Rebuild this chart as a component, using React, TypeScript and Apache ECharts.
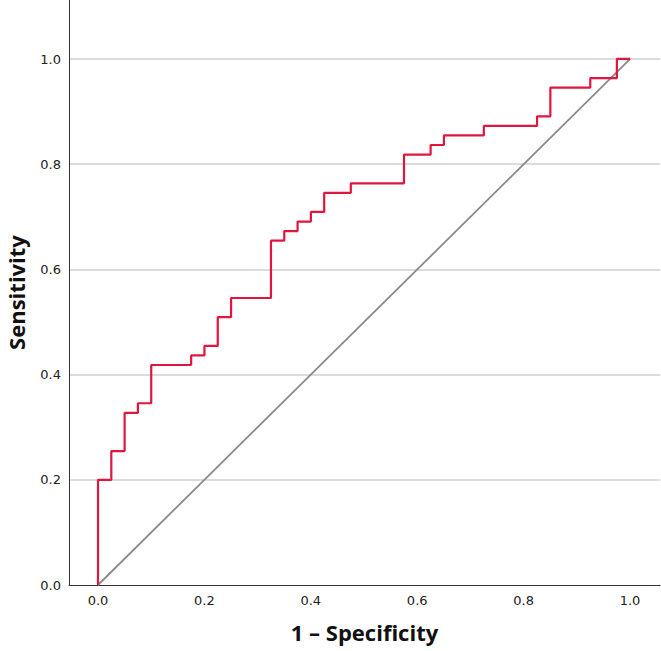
import React, { useEffect, useRef } from "react";
import * as echarts from "echarts";

// ROC curve points (1 - Specificity, Sensitivity), drawn as a step line
const fpr = [0, 0, 0.025, 0.05, 0.075, 0.1, 0.175, 0.2, 0.225, 0.25, 0.325, 0.35, 0.375, 0.4, 0.425, 0.475, 0.575, 0.625, 0.65, 0.725, 0.825, 0.85, 0.925, 0.975, 1.0];
const tpr = [0, 0.2, 0.2545, 0.3273, 0.3455, 0.4182, 0.4364, 0.4545, 0.5091, 0.5455, 0.6545, 0.6727, 0.6909, 0.7091, 0.7455, 0.7636, 0.8182, 0.8364, 0.8545, 0.8727, 0.8909, 0.9455, 0.9636, 1.0, 1.0];
// Reference diagonal
const refX = [0, 1];
const refY = [0, 1];
const tickValues = ["0.0", "0.2", "0.4", "0.6", "0.8", "1.0"];

export default function App() {
  const ref = useRef<HTMLDivElement>(null);
  useEffect(() => {
    if (!ref.current) return;
    const chart = echarts.init(ref.current, null, { renderer: "svg" });
    const labelFont = { fontFamily: "DejaVu Sans", fontSize: 13, color: "#222" };
    const nameFont = { fontFamily: "Open Sans", fontWeight: "bold" as const, fontSize: 22, color: "#111" };
    chart.setOption({
      animation: false,
      backgroundColor: "#fff",
      grid: [
        { left: 69, right: 1, top: 0, bottom: 66, outerBoundsMode: "none", containLabel: false },
        { left: 69, right: 1, top: 59, bottom: 66, outerBoundsMode: "none", containLabel: false },
        { left: 98, right: 31, top: 0, bottom: 66, outerBoundsMode: "none", containLabel: false },
      ],
      xAxis: [
        {
          type: "value", gridIndex: 0, min: -0.0545, max: 1.056,
          axisLine: { show: true, onZero: false, lineStyle: { color: "#333", width: 1 } },
          axisTick: { show: false }, axisLabel: { show: false }, splitLine: { show: false },
          name: "1 – Specificity", nameLocation: "middle", nameGap: 36, nameTextStyle: nameFont,
        },
        {
          type: "value", gridIndex: 1, min: 0, max: 1, show: false,
        },
        {
          type: "value", gridIndex: 2, min: 0, max: 1, interval: 0.2,
          axisLine: { show: false, onZero: false }, axisTick: { show: false }, splitLine: { show: false },
          axisLabel: { ...labelFont, margin: 9, formatter: (v: number) => tickValues[Math.round(v / 0.2)] ?? "" },
        },
      ],
      yAxis: [
        {
          type: "value", gridIndex: 0, min: 0, max: 1.112,
          axisLine: { show: true, onZero: false, lineStyle: { color: "#333", width: 1 } },
          axisTick: { show: false }, axisLabel: { show: false }, splitLine: { show: false },
          name: "Sensitivity", nameLocation: "middle", nameGap: 42, nameRotate: 90, nameTextStyle: nameFont,
        },
        {
          type: "value", gridIndex: 1, min: 0, max: 1, interval: 0.2,
          axisLine: { show: false, onZero: false }, axisTick: { show: false },
          axisLabel: { ...labelFont, margin: 8, formatter: (v: number) => tickValues[Math.round(v / 0.2)] ?? "" },
          splitLine: { show: true, showMinLine: false, lineStyle: { color: "#cfcfcf", width: 1.5 } },
        },
        {
          type: "value", gridIndex: 2, min: 0, max: 1, show: false,
        },
      ],
      series: [
        {
          type: "line", xAxisIndex: 0, yAxisIndex: 0,
          data: refX.map((x, i) => [x, refY[i]]),
          symbol: "none", lineStyle: { color: "#8a8a8a", width: 1.8 }, z: 3,
        },
        {
          type: "line", xAxisIndex: 0, yAxisIndex: 0, step: "end",
          data: fpr.map((x, i) => [x, tpr[i]]),
          symbol: "none", lineStyle: { color: "#e0163f", width: 2.2 }, z: 4,
        },
      ],
    });
    return () => chart.dispose();
  }, []);
  return <div ref={ref} style={{ width: 661, height: 651, position: "absolute", left: 0, top: 0 }} />;
}
